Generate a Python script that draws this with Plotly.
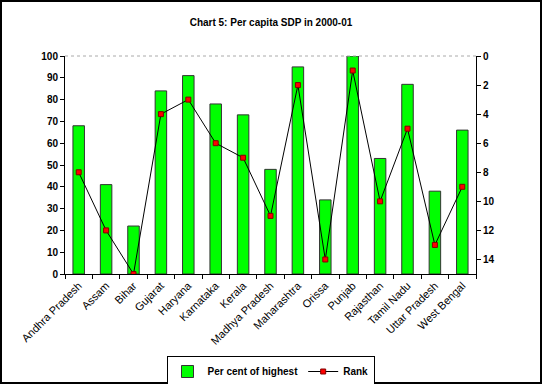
import plotly.graph_objects as go

states = ["Andhra Pradesh", "Assam", "Bihar", "Gujarat", "Haryana", "Karnataka", "Kerala",
          "Madhya Pradesh", "Maharashtra", "Orissa", "Punjab", "Rajasthan", "Tamil Nadu",
          "Uttar Pradesh", "West Bengal"]
pct_of_highest = [68, 41, 22, 84, 91, 78, 73, 48, 95, 34, 100, 53, 87, 38, 66]
rank = [8, 12, 15, 4, 3, 6, 7, 11, 2, 14, 1, 10, 5, 13, 9]

W, H = 542, 384
ML, MR, MT, MB = 65, 66, 56, 110
pw, ph = W - ML - MR, H - MT - MB

fig = go.Figure()
fig.add_trace(go.Bar(x=states, y=pct_of_highest, name="Per cent of highest",
                     marker=dict(color="#00FF00", line=dict(color="#333333", width=1)),
                     yaxis="y"))
fig.add_trace(go.Scatter(x=states, y=rank, name="Rank", mode="lines+markers",
                         line=dict(color="black", width=1),
                         marker=dict(symbol="square", size=5, color="#FF0000",
                                     line=dict(color="#800000", width=1)),
                         yaxis="y2"))

font = dict(family="Arial, Liberation Sans, sans-serif", color="black")
bold = dict(family="Arial, Liberation Sans, sans-serif", color="black", weight="bold")
fig.update_layout(
    width=W, height=H,
    margin=dict(l=ML, r=MR, t=MT, b=MB, pad=0, autoexpand=False),
    paper_bgcolor="white", plot_bgcolor="white",
    font=dict(size=10, **font),
    title=dict(text="<b>Chart 5: Per capita SDP in 2000-01</b>", x=0.5, xanchor="center",
               y=1 - 22 / H, yanchor="middle", font=dict(size=10, **font)),
    bargap=0.58,
    showlegend=True,
    legend=dict(orientation="h", x=0.5, xanchor="center", y=1 - 356 / H, yanchor="top",
                yref="container",
                bordercolor="black", borderwidth=1, bgcolor="white",
                font=dict(size=10, **bold), traceorder="normal",
                itemwidth=30, tracegroupgap=0),
    xaxis=dict(type="category", tickangle=-45, showgrid=False, showline=True, linecolor="black",
               linewidth=1, ticks="outside", tickson="boundaries", ticklen=4, tickcolor="black",
               tickfont=dict(size=11, **font), range=[-0.5, 14.5], automargin=False),
    yaxis=dict(range=[0, 100], tickvals=list(range(0, 101, 10)), showgrid=False, showline=True,
               linecolor="black", linewidth=1, ticks="outside", ticklen=4, tickcolor="black",
               tickfont=dict(size=10, **bold), zeroline=False, automargin=False),
    yaxis2=dict(range=[15, 0], tickvals=list(range(0, 15, 2)), overlaying="y", side="right",
                showgrid=False, showline=True, linecolor="black", linewidth=1, ticks="outside",
                ticklen=4, tickcolor="black", tickfont=dict(size=10, **bold),
                zeroline=False, automargin=False),
)

# dotted top border of plot area
fig.add_shape(type="line", xref="paper", yref="paper", x0=0, x1=1, y0=1, y1=1,
              line=dict(color="#AAAAAA", width=1, dash="dot"))
# outer figure border
fig.add_shape(type="rect", xref="paper", yref="paper",
              x0=-(ML - 1) / pw, x1=(W - ML - 1) / pw,
              y0=-(MB - 1) / ph, y1=(H - MB - 1) / ph,
              line=dict(color="black", width=2), layer="above")

fig.write_html("out.html", config={"displayModeBar": False},
               post_script="document.body.style.margin='0';document.body.style.overflow='hidden';")
